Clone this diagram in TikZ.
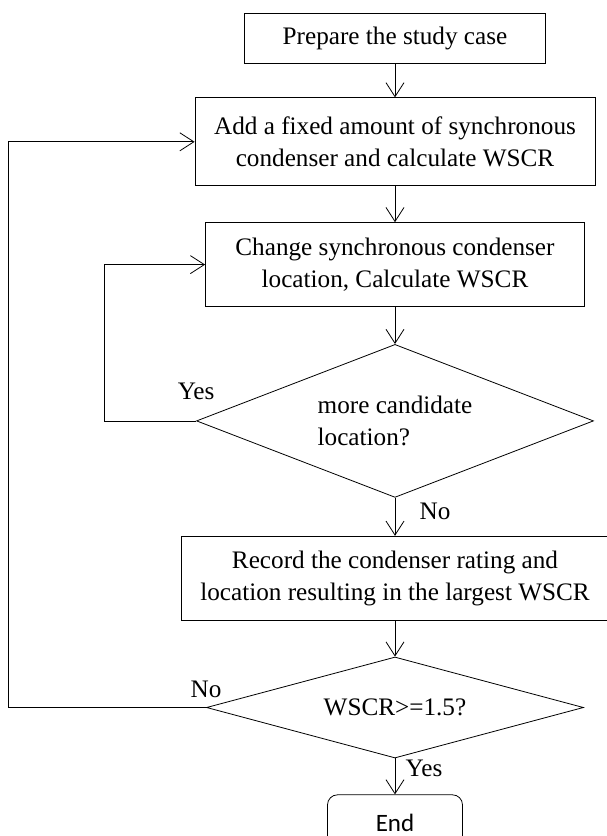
\documentclass[tikz,border=0pt]{standalone}
\usepackage{fontspec}
\setmainfont{Liberation Serif}
\newfontfamily\endfont{Carlito}
\usepackage{tikz}
\usetikzlibrary{arrows.meta,positioning,shapes.geometric}

\begin{document}
\begin{tikzpicture}[node distance=36pt, auto,
    font=\fontsize{25.2}{32}\selectfont,
    line width=0.8pt,
    box/.style={draw, rectangle, inner sep=0pt, align=center},
    decision/.style={draw, diamond, inner sep=0pt, align=center},
    lbl/.style={draw=none, inner sep=0pt},
    arr/.style={-{Straight Barb[length=14pt,width=18pt]}}]
    	\useasboundingbox (0,0) rectangle (607pt,-836pt);
    	\node[box, minimum width=301pt, minimum height=50pt] (prep) at (395pt,-38pt) {Prepare the study case};
    	\node[box, minimum width=400pt, minimum height=88pt, below=34pt of prep] (add) {Add a fixed amount of synchronous\\condenser and calculate WSCR};
    	\node[box, minimum width=379pt, minimum height=84pt, below=36pt of add] (change) {Change synchronous condenser\\location, Calculate WSCR};
    	\node[decision, aspect=2.6, minimum width=397pt, minimum height=153pt, align=left, below=37pt of change] (more) {more candidate\\location?};
    	\node[box, minimum width=428pt, minimum height=84pt, below=38pt of more] (record) {Record the condenser rating and\\location resulting in the largest WSCR};
    	\node[decision, aspect=3.77, minimum width=377pt, minimum height=101pt, below=36pt of record] (wscr) {WSCR>=1.5?};
    	\node[box, rounded corners=10pt, minimum width=135pt, minimum height=56pt, font=\endfont\fontsize{25}{32}\selectfont, below=36pt of wscr] (end) {End};
    	
    	\node[lbl, anchor=base] (yesloop) at ([yshift=21pt]more.west) {Yes};
    	\node[lbl, anchor=base] (nomore) at ([xshift=40pt,yshift=-22pt]more.south) {No};
    	\node[lbl, anchor=base] (noloop) at ([yshift=10pt]wscr.west) {No};
    	\node[lbl, anchor=base] (yesend) at ([xshift=29pt,yshift=-18pt]wscr.south) {Yes};
    	
    	\path [arr]
    		(prep) edge (add)
    		(add) edge (change)
    		(change) edge (more)
    		(more) edge (record)
    		(record) edge (wscr)
    		(wscr) edge (end)
    	;
    	\draw[arr] (more.west) -- ++(-92pt,0) |- (change.west);
    	\draw[arr] (wscr.west) -- ++(-198pt,0) |- (add.west);
    \end{tikzpicture}
\end{document}
